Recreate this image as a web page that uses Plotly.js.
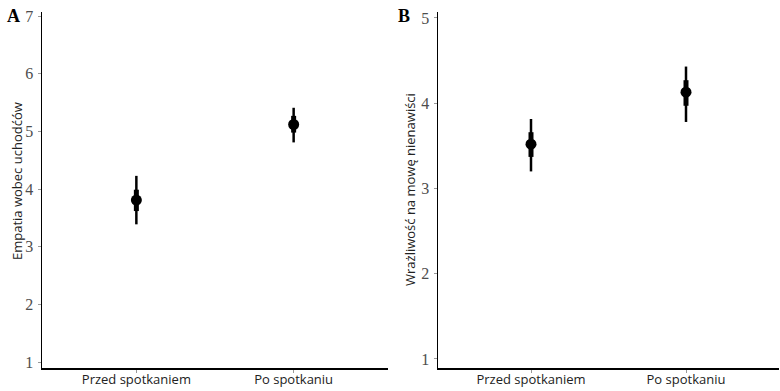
<!DOCTYPE html>
<html>
<head>
<meta charset="utf-8">
<script src="https://cdn.plot.ly/plotly-3.0.1.min.js"></script>
<style>html,body{margin:0;padding:0;background:#fff}#chart{width:780px;height:391px}</style>
</head>
<body>
<div id="chart"></div>
<script>
var categories = ["Przed spotkaniem", "Po spotkaniu"];

// Panel A: Empatia wobec uchodźców
var meanA = [3.81, 5.12];
var innerLowA = [3.62, 4.98];
var innerHighA = [3.99, 5.27];
var outerLowA = [3.39, 4.81];
var outerHighA = [4.23, 5.41];

// Panel B: Wrażliwość na mowę nienawiści
var meanB = [3.52, 4.13];
var innerLowB = [3.37, 3.97];
var innerHighB = [3.66, 4.27];
var outerLowB = [3.20, 3.78];
var outerHighB = [3.815, 4.43];

var yTicksA = [1, 2, 3, 4, 5, 6, 7];
var yTicksB = [1, 2, 3, 4, 5];

function diff(a, b) { return a.map(function (v, i) { return +(v - b[i]).toFixed(4); }); }

function bars(mean, lo, hi, thick, xa, ya) {
  return {
    x: categories, y: mean, type: 'scatter', mode: 'markers',
    xaxis: xa, yaxis: ya, hoverinfo: 'skip',
    marker: {size: 0.1, color: 'rgba(0,0,0,0)'},
    error_y: {type: 'data', symmetric: false, array: diff(hi, mean), arrayminus: diff(mean, lo),
      thickness: thick, width: 0, color: '#000'},
    showlegend: false
  };
}
function pts(mean, xa, ya) {
  return {x: categories, y: mean, type: 'scatter', mode: 'markers', xaxis: xa, yaxis: ya,
    marker: {size: 11, color: '#000'}, showlegend: false};
}

var data = [
  bars(meanA, outerLowA, outerHighA, 2.5, 'x', 'y'),
  bars(meanA, innerLowA, innerHighA, 5, 'x', 'y'),
  pts(meanA, 'x', 'y'),
  bars(meanB, outerLowB, outerHighB, 2.5, 'x2', 'y2'),
  bars(meanB, innerLowB, innerHighB, 5, 'x2', 'y2'),
  pts(meanB, 'x2', 'y2')
];

var tickFontY = {family: 'Liberation Serif', size: 16, color: '#4d4d4d'};
var tickFontX = {family: 'Open Sans', size: 13, color: '#222'};

function xax(dom, anchor) {
  return {domain: dom, anchor: anchor, type: 'category', range: [-0.6, 1.6],
    showline: true, linecolor: '#000', linewidth: 1.5, showgrid: false, zeroline: false,
    ticks: 'outside', ticklen: 3, tickcolor: '#999', tickwidth: 1, tickfont: tickFontX,
    ticklabelstandoff: -4, fixedrange: true};
}
function yax(dom, anchor, range, tv) {
  return {domain: dom, anchor: anchor, range: range, tickvals: tv, ticktext: tv.map(String),
    showline: true, linecolor: '#000', linewidth: 1.5, showgrid: false, zeroline: false,
    ticks: 'outside', ticklen: 3, tickcolor: '#999', tickwidth: 1, tickfont: tickFontY,
    ticklabelstandoff: 1, fixedrange: true};
}

var yDom = [1 - 368 / 391, 1 - 12 / 391];
var layout = {
  width: 780, height: 391,
  margin: {l: 0, r: 0, t: 0, b: 0},
  paper_bgcolor: '#fff', plot_bgcolor: '#fff',
  xaxis: xax([42 / 780, 388 / 780], 'y'),
  yaxis: yax(yDom, 'x', [0.9, 7.07], yTicksA),
  xaxis2: xax([438 / 780, 779 / 780], 'y2'),
  yaxis2: yax(yDom, 'x2', [0.894, 5.07], yTicksB),
  annotations: [
    {text: '<b>A</b>', xref: 'paper', yref: 'paper', x: 13 / 780, y: 1 - 16 / 391,
      xanchor: 'center', yanchor: 'middle', showarrow: false,
      font: {family: 'Liberation Serif', size: 18, color: '#000'}},
    {text: '<b>B</b>', xref: 'paper', yref: 'paper', x: 404 / 780, y: 1 - 16 / 391,
      xanchor: 'center', yanchor: 'middle', showarrow: false,
      font: {family: 'Liberation Serif', size: 18, color: '#000'}},
    {text: 'Empatia wobec uchodćów', xref: 'paper', yref: 'paper', x: 17 / 780, y: 1 - 181 / 391,
      xanchor: 'center', yanchor: 'middle', textangle: -90, showarrow: false,
      font: {family: 'Open Sans', size: 13, color: '#222'}},
    {text: 'Wrażliwość na mowę nienawiści', xref: 'paper', yref: 'paper', x: 410 / 780, y: 1 - 190 / 391,
      xanchor: 'center', yanchor: 'middle', textangle: -90, showarrow: false,
      font: {family: 'Open Sans', size: 13, color: '#222'}}
  ]
};

Plotly.newPlot('chart', data, layout, {displayModeBar: false, staticPlot: true});
</script>
</body>
</html>
